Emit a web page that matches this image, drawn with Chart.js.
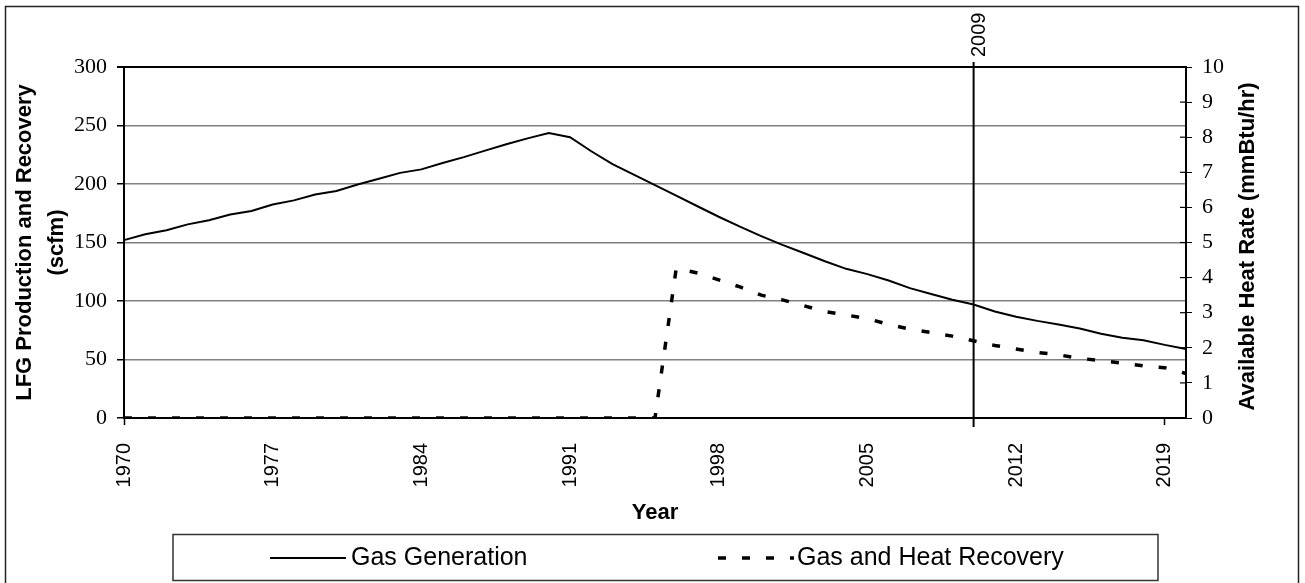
<!DOCTYPE html>
<html>
<head>
<meta charset="utf-8">
<script src="https://cdn.jsdelivr.net/npm/chart.js@4.4.0/dist/chart.umd.min.js"></script>
<style>
    html, body { margin: 0; padding: 0; background: #fff; }
    #wrap { width: 1305px; height: 583px; position: relative; }
</style>
</head>
<body>
<div id="wrap"><canvas id="chart"></canvas></div>
<script>
// =========================
// DATA
// =========================
const years = [
    "1970", "1971", "1972", "1973", "1974", "1975", "1976", "1977", "1978", "1979",
    "1980", "1981", "1982", "1983", "1984", "1985", "1986", "1987", "1988", "1989",
    "1990", "1991", "1992", "1993", "1994", "1995", "1996", "1997", "1998", "1999",
    "2000", "2001", "2002", "2003", "2004", "2005", "2006", "2007", "2008", "2009",
    "2010", "2011", "2012", "2013", "2014", "2015", "2016", "2017", "2018", "2019",
    "2020"
];

// LFG generation (scfm)
const gasGeneration = [
    152, 157, 160.5, 165.5, 169, 174, 177, 182.5, 186, 191,
    194, 199.5, 204.5, 209.5, 212.5, 218, 223, 228.5, 234, 239,
    243.5, 240, 228, 217, 208, 199, 190, 181, 172, 163.5,
    155.5, 148, 141, 134, 127.5, 123, 117.5, 111, 106, 101,
    97, 91, 86.5, 83, 80, 76.5, 72, 68.5, 66.5, 62.5,
    59
];

// gas and heat recovery (scfm)
const gasRecovery = [
    0, 0, 0, 0, 0, 0, 0, 0, 0, 0,
    0, 0, 0, 0, 0, 0, 0, 0, 0, 0,
    0, 0, 0, 0, 0, 0, 128, 124, 118, 112,
    105, 101, 96, 91, 88, 85, 80, 76, 73, 70,
    66, 62, 59, 56, 54, 51, 49, 47, 44.5, 43,
    38
];

const xTickYears = ["1970", "1977", "1984", "1991", "1998", "2005", "2012", "2019"];
const scfmMax = 300, scfmStep = 50;
const heatMax = 10, heatStep = 1;

const markerAt = "2010";
const markerLabel = "2009";

const SANS = "'Liberation Sans', Arial, sans-serif";
const SERIF = "'Liberation Serif', 'Times New Roman', serif";

// =========================
// EXTRA DRAWING (frame, marker, legend, right title)
// =========================
const decor = {
    id: "decor",
    afterDraw(chart) {
        const { ctx, chartArea: a, scales: { x, y1 } } = chart;
        ctx.save();

        // outer frame
        ctx.strokeStyle = "#222";
        ctx.lineWidth = 1.5;
        ctx.strokeRect(5.5, 6.5, 1293, 620);

        // inward ticks on right axis
        ctx.strokeStyle = "#000";
        ctx.lineWidth = 1.2;
        y1.ticks.forEach((t, i) => {
            const py = y1.getPixelForTick(i);
            ctx.beginPath();
            ctx.moveTo(a.right - 6, py);
            ctx.lineTo(a.right, py);
            ctx.stroke();
        });

        // marker line
        const mx = x.getPixelForValue(years.indexOf(markerAt));
        ctx.lineWidth = 2;
        ctx.beginPath();
        ctx.moveTo(mx, a.top - 5);
        ctx.lineTo(mx, a.bottom + 9);
        ctx.stroke();

        ctx.fillStyle = "#000";
        ctx.save();
        ctx.translate(mx + 6, a.top - 10);
        ctx.rotate(-Math.PI / 2);
        ctx.font = `20px ${SANS}`;
        ctx.textAlign = "left";
        ctx.textBaseline = "middle";
        ctx.fillText(markerLabel, 0, 0);
        ctx.restore();

        // right axis title
        ctx.save();
        ctx.translate(1248, (a.top + a.bottom) / 2 + 4);
        ctx.rotate(-Math.PI / 2);
        ctx.font = `bold 22px ${SANS}`;
        ctx.textAlign = "center";
        ctx.textBaseline = "middle";
        ctx.fillText("Available Heat Rate (mmBtu/hr)", 0, 0);
        ctx.restore();

        // legend box
        ctx.strokeStyle = "#333";
        ctx.lineWidth = 1.5;
        ctx.strokeRect(173, 534.5, 985, 46);

        const sampleX = [270, 718];
        const textX = [351, 797];
        const ly = 558;
        ctx.font = `25px ${SANS}`;
        ctx.textAlign = "left";
        ctx.textBaseline = "middle";
        chart.data.datasets.forEach((ds, i) => {
            ctx.strokeStyle = ds.borderColor;
            ctx.lineWidth = ds.borderWidth;
            ctx.setLineDash(ds.borderDash || []);
            ctx.beginPath();
            ctx.moveTo(sampleX[i], ly);
            ctx.lineTo(sampleX[i] + 76, ly);
            ctx.stroke();
            ctx.setLineDash([]);
            ctx.fillText(ds.label, textX[i], ly);
        });

        ctx.restore();
    }
};

// =========================
// CHART
// =========================
new Chart(document.getElementById("chart"), {
    type: "line",
    data: {
        labels: years,
        datasets: [
            {
                label: "Gas Generation",
                data: gasGeneration,
                borderColor: "#000",
                borderWidth: 2,
                pointRadius: 0,
                tension: 0,
                yAxisID: "y"
            },
            {
                label: "Gas and Heat Recovery",
                data: gasRecovery,
                borderColor: "#000",
                borderWidth: 3.5,
                borderDash: [8, 16],
                pointRadius: 0,
                tension: 0,
                yAxisID: "y"
            }
        ]
    },
    options: {
        responsive: true,
        maintainAspectRatio: false,
        animation: false,
        layout: { padding: { top: 67, left: 0, right: 0, bottom: 0 } },
        plugins: {
            legend: { display: false },
            tooltip: { enabled: false }
        },
        scales: {
            x: {
                type: "category",
                offset: false,
                grid: {
                    drawOnChartArea: false,
                    tickLength: 7,
                    tickWidth: 1.5,
                    tickColor: c => xTickYears.includes(years[c.index]) ? "#000" : "rgba(0,0,0,0)"
                },
                border: { color: "#000", width: 2 },
                ticks: {
                    autoSkip: false,
                    minRotation: 90,
                    maxRotation: 90,
                    padding: 18,
                    color: "#000",
                    font: { family: SANS, size: 20 },
                    callback: function (v) {
                        const lbl = this.getLabelForValue(v);
                        return xTickYears.includes(lbl) ? lbl : null;
                    }
                },
                title: {
                    display: true,
                    text: "Year",
                    color: "#000",
                    font: { family: SANS, size: 22, weight: "bold" },
                    padding: { top: 0, bottom: 57 }
                },
                afterFit: s => { s.height = 165; }
            },
            y: {
                position: "left",
                min: 0,
                max: scfmMax,
                ticks: {
                    stepSize: scfmStep,
                    padding: 10,
                    color: "#000",
                    font: { family: SERIF, size: 22 }
                },
                grid: {
                    color: c => c.tick && c.tick.value === scfmMax ? "#000" : "#808080",
                    lineWidth: c => c.tick && c.tick.value === scfmMax ? 2 : 1.5,
                    tickLength: 7,
                    tickColor: "#000"
                },
                border: { color: "#000", width: 2 },
                title: {
                    display: true,
                    text: ["LFG Production and Recovery", "(scfm)"],
                    color: "#000",
                    font: { family: SANS, size: 22, weight: "bold", lineHeight: 1.45 },
                    padding: { top: 9, bottom: 0 }
                },
                afterFit: s => { s.width = 124; }
            },
            y1: {
                position: "right",
                min: 0,
                max: heatMax,
                ticks: {
                    stepSize: heatStep,
                    padding: 10,
                    color: "#000",
                    font: { family: SERIF, size: 22 }
                },
                grid: {
                    drawOnChartArea: false,
                    tickLength: 6,
                    tickColor: "#000"
                },
                border: { color: "#000", width: 2 },
                afterFit: s => { s.width = 119; }
            }
        }
    },
    plugins: [decor]
});
</script>
</body>
</html>
